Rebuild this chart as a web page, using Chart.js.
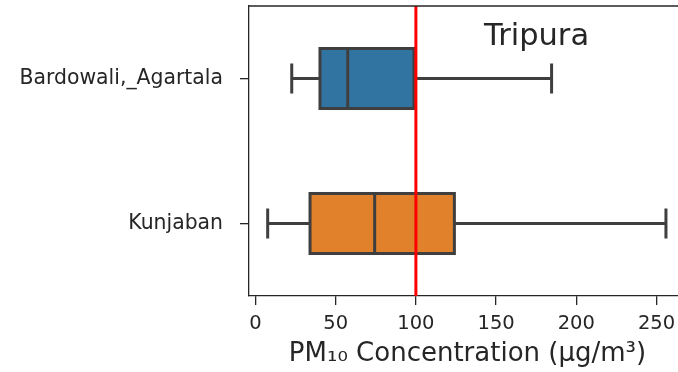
<!DOCTYPE html>
<html>
<head>
<meta charset="utf-8">
<script src="https://cdn.jsdelivr.net/npm/chart.js@4.4.0/dist/chart.umd.min.js"></script>
<style>
html, body { margin: 0; padding: 0; background: #fff; overflow: hidden; }
#wrap { width: 686px; height: 372px; }
</style>
</head>
<body>
<div id="wrap"><canvas id="chart"></canvas></div>
<script>
// --- Data ---
const sites = ['Bardowali,_Agartala', 'Kunjaban'];
const whiskerLow = [22.6, 7.6];
const q1 = [40.2, 34.0];
const median = [57.5, 74.3];
const q3 = [98.8, 124.0];
const whiskerHigh = [184.6, 255.9];
const boxColors = ['#3274a1', '#e1812c'];
const xTicks = [0, 50, 100, 150, 200, 250];
const limitValue = 100;
const stateName = 'Tripura';

const lineGray = '#3f3f3f';
const axisInk = '#262626';
const fontFamily = '"DejaVu Sans", sans-serif';

// --- Whiskers, box outlines, medians and the limit line ---
const boxPlotLines = {
    id: 'boxPlotLines',
    afterDatasetsDraw(chart) {
        const { ctx, chartArea, scales: { x, y } } = chart;
        const bars = chart.getDatasetMeta(0).data;
        ctx.save();
        ctx.strokeStyle = lineGray;
        ctx.lineWidth = 3;
        ctx.lineCap = 'butt';
        bars.forEach((bar, i) => {
            const cy = y.getPixelForValue(i);
            const half = bar.height / 2;
            const xLo = x.getPixelForValue(whiskerLow[i]);
            const x1 = x.getPixelForValue(q1[i]);
            const xm = x.getPixelForValue(median[i]);
            const x3 = x.getPixelForValue(q3[i]);
            const xHi = x.getPixelForValue(whiskerHigh[i]);
            const cap = half / 2;

            ctx.strokeRect(x1, cy - half, x3 - x1, half * 2);

            ctx.beginPath();
            ctx.moveTo(xm, cy - half);
            ctx.lineTo(xm, cy + half);
            // whiskers
            ctx.moveTo(xLo, cy);
            ctx.lineTo(x1, cy);
            ctx.moveTo(x3, cy);
            ctx.lineTo(xHi, cy);
            // caps
            ctx.moveTo(xLo, cy - cap);
            ctx.lineTo(xLo, cy + cap);
            ctx.moveTo(xHi, cy - cap);
            ctx.lineTo(xHi, cy + cap);
            ctx.stroke();
        });

        const xl = x.getPixelForValue(limitValue);
        ctx.strokeStyle = '#ff0000';
        ctx.lineWidth = 3;
        ctx.beginPath();
        ctx.moveTo(xl, chartArea.top);
        ctx.lineTo(xl, chartArea.bottom);
        ctx.stroke();
        ctx.restore();
    },
    afterDraw(chart) {
        const { ctx, chartArea } = chart;
        ctx.save();
        // top spine
        ctx.strokeStyle = axisInk;
        ctx.lineWidth = 1.3;
        ctx.beginPath();
        ctx.moveTo(chartArea.left, chartArea.top);
        ctx.lineTo(chartArea.right, chartArea.top);
        ctx.stroke();
        // state name inside the axes
        ctx.fillStyle = axisInk;
        ctx.font = '30.5px ' + fontFamily;
        ctx.textAlign = 'center';
        ctx.textBaseline = 'middle';
        const tx = chartArea.left + 0.658 * (chartArea.right - chartArea.left);
        const ty = chartArea.top + 0.107 * (chartArea.bottom - chartArea.top);
        ctx.fillText(stateName, tx, ty);
        ctx.restore();
    }
};

const ctx = document.getElementById('chart').getContext('2d');

new Chart(ctx, {
    type: 'bar',
    data: {
        labels: sites,
        datasets: [{
            data: sites.map((s, i) => [q1[i], q3[i]]),
            backgroundColor: boxColors,
            borderWidth: 0,
            categoryPercentage: 1,
            barPercentage: 0.414
        }]
    },
    options: {
        indexAxis: 'y',
        responsive: true,
        maintainAspectRatio: false,
        animation: false,
        layout: { padding: { top: 6, right: 0, bottom: 0, left: 0 } },
        plugins: {
            legend: { display: false },
            tooltip: { enabled: false }
        },
        scales: {
            x: {
                type: 'linear',
                min: -4.05,
                max: 268.4,
                afterBuildTicks: scale => {
                    scale.ticks = xTicks.map(v => ({ value: v }));
                },
                afterFit: scale => {
                    scale.height = 76;
                    scale.paddingLeft = 0;
                    scale.paddingRight = 0;
                },
                grid: {
                    display: true,
                    drawOnChartArea: false,
                    drawTicks: true,
                    tickLength: 9,
                    color: axisInk,
                    lineWidth: 1.3
                },
                border: { display: true, color: axisInk, width: 1.3 },
                ticks: {
                    color: axisInk,
                    padding: 7,
                    maxRotation: 0,
                    font: { family: fontFamily, size: 19.5 }
                },
                title: {
                    display: true,
                    text: 'PM₁₀ Concentration (µg/m³)',
                    color: axisInk,
                    padding: { top: 0, bottom: 2 },
                    font: { family: fontFamily, size: 26 }
                }
            },
            y: {
                type: 'category',
                offset: true,
                afterFit: scale => {
                    scale.width = 249;
                    scale.paddingTop = 0;
                    scale.paddingBottom = 0;
                },
                grid: {
                    display: true,
                    offset: false,
                    drawOnChartArea: false,
                    drawTicks: true,
                    tickLength: 9,
                    color: axisInk,
                    lineWidth: 1.3
                },
                border: { display: true, color: axisInk, width: 1.3 },
                ticks: {
                    color: axisInk,
                    padding: 17,
                    font: { family: fontFamily, size: 20.4 }
                }
            }
        }
    },
    plugins: [boxPlotLines]
});
</script>
</body>
</html>
